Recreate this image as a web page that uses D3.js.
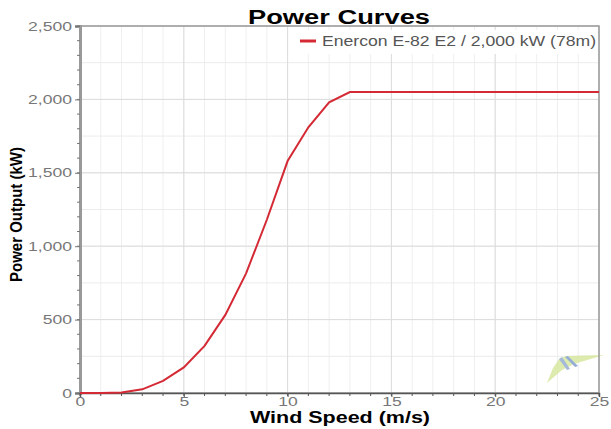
<!DOCTYPE html>
<meta charset="utf-8">
<style>
body { margin: 0; background: #fff; }
svg { font-family: "Liberation Sans", Arial, sans-serif; }
.tick text { fill: #777; font-size: 13px; }
.title { font-weight: bold; font-size: 20px; }
.axis-label { font-weight: bold; font-size: 16px; }
</style>
<body>
<script src="https://d3js.org/d3.v7.min.js"></script>
<script>
// Enercon E-82 E2 power curve
var windSpeed = [0, 1, 2, 3, 4, 5, 6, 7, 8, 9, 10, 11, 12, 13, 14, 15, 16, 17, 18, 19, 20, 21, 22, 23, 24, 25];
var powerKW   = [0, 0, 3, 25, 82, 174, 321, 532, 815, 1180, 1580, 1810, 1980, 2050, 2050, 2050, 2050, 2050, 2050, 2050, 2050, 2050, 2050, 2050, 2050, 2050];
var seriesName = "Enercon E-82 E2 / 2,000 kW (78m)";
var xTicks = [0, 5, 10, 15, 20, 25];
var yTicks = [0, 500, 1000, 1500, 2000, 2500];

var width = 611, height = 429;
var margin = {top: 26, right: 12, bottom: 36, left: 80};
var stretch = 1.35; // the picture is drawn wide

var svg = d3.select("body").append("svg")
  .attr("width", width)
  .attr("height", height);

var x = d3.scaleLinear().domain([0, 25]).range([margin.left, width - margin.right]);
var y = d3.scaleLinear().domain([0, 2500]).range([height - margin.bottom, margin.top]);

// minor grid
svg.append("g").selectAll("line")
  .data(d3.range(0, 26, 1))
  .enter().append("line")
  .attr("x1", d => x(d)).attr("x2", d => x(d))
  .attr("y1", y(0)).attr("y2", y(2500))
  .attr("stroke", "#efefef");

svg.append("g").selectAll("line")
  .data(d3.range(0, 2501, 250))
  .enter().append("line")
  .attr("x1", x(0)).attr("x2", x(25))
  .attr("y1", d => y(d)).attr("y2", d => y(d))
  .attr("stroke", "#ececec");

// major grid
svg.append("g").selectAll("line")
  .data(xTicks)
  .enter().append("line")
  .attr("x1", d => x(d)).attr("x2", d => x(d))
  .attr("y1", y(0)).attr("y2", y(2500))
  .attr("stroke", "#dcdcdc");

svg.append("g").selectAll("line")
  .data(yTicks)
  .enter().append("line")
  .attr("x1", x(0)).attr("x2", x(25))
  .attr("y1", d => y(d)).attr("y2", d => y(d))
  .attr("stroke", "#dcdcdc");

// logo, faint, bottom right
var logo = svg.append("g").attr("opacity", 0.8);
logo.append("path")
  .attr("d", "M547,383 L553,368 L559,359 L566,356 L604,355 L574,364 L562,370 Z")
  .attr("fill", "#d6e79a");
logo.append("path")
  .attr("d", "M559,359 L562,357 L570,369 L567,370 Z")
  .attr("fill", "#8fa8d2");
logo.append("path")
  .attr("d", "M565,357 L568,356 L578,366 L575,367 Z")
  .attr("fill", "#7d9bcc");

// frame
svg.append("rect")
  .attr("x", x(0)).attr("y", y(2500))
  .attr("width", x(25) - x(0)).attr("height", y(0) - y(2500))
  .attr("fill", "none")
  .attr("stroke", "#9a9a9a")
  .attr("stroke-width", 1.5);

// axes
var yAxis = d3.axisLeft(y).tickValues(yTicks).tickSize(5).tickFormat(d3.format(","));
var gy = svg.append("g").attr("transform", "translate(" + x(0) + ",0)").call(yAxis);
gy.select(".domain").attr("stroke", "#999").attr("stroke-width", 3);
gy.selectAll(".tick line").attr("stroke", "#777");
gy.selectAll(".tick text")
  .attr("x", -8 / stretch)
  .attr("transform", "scale(" + stretch + ",1)");

svg.append("g").selectAll("line")
  .data(d3.range(0, 2501, 100))
  .enter().append("line")
  .attr("x1", x(0) - 3).attr("x2", x(0))
  .attr("y1", d => y(d)).attr("y2", d => y(d))
  .attr("stroke", "#777");

var xAxis = d3.axisBottom(x).tickValues(xTicks).tickSize(4);
var gx = svg.append("g").attr("transform", "translate(0," + y(0) + ")").call(xAxis);
gx.select(".domain").attr("stroke", "#555").attr("stroke-width", 1.5);
gx.selectAll(".tick line").attr("stroke", "#555");
gx.selectAll(".tick text")
  .attr("dy", "0.5em")
  .attr("transform", "scale(" + stretch + ",1)");

svg.append("g").selectAll("line")
  .data(d3.range(0, 26, 1))
  .enter().append("line")
  .attr("x1", d => x(d)).attr("x2", d => x(d))
  .attr("y1", y(0)).attr("y2", y(0) + 3)
  .attr("stroke", "#555");

// curve
var line = d3.line()
  .x((d, i) => x(windSpeed[i]))
  .y(d => y(d));

svg.append("path")
  .datum(powerKW)
  .attr("fill", "none")
  .attr("stroke", "#d42a35")
  .attr("stroke-width", 2)
  .attr("d", line);

// legend
var lg = svg.append("g").attr("transform", "translate(296,30)");
lg.append("rect")
  .attr("width", 302).attr("height", 24)
  .attr("fill", "#fff");
lg.append("line")
  .attr("x1", 4).attr("x2", 20)
  .attr("y1", 11).attr("y2", 11)
  .attr("stroke", "#d42a35")
  .attr("stroke-width", 3);
lg.append("text")
  .attr("x", 26).attr("y", 16)
  .attr("fill", "#555")
  .attr("font-size", 14)
  .attr("textLength", 274)
  .attr("lengthAdjust", "spacingAndGlyphs")
  .text(seriesName);

// titles
svg.append("text")
  .attr("class", "title")
  .attr("x", 248).attr("y", 24)
  .attr("textLength", 182)
  .attr("lengthAdjust", "spacingAndGlyphs")
  .text("Power Curves");

svg.append("text")
  .attr("class", "axis-label")
  .attr("x", 250).attr("y", 423)
  .attr("textLength", 180)
  .attr("lengthAdjust", "spacingAndGlyphs")
  .text("Wind Speed (m/s)");

svg.append("text")
  .attr("class", "axis-label")
  .attr("transform", "translate(22,282) rotate(-90)")
  .attr("font-family", "'Liberation Sans Narrow', 'Liberation Sans', sans-serif")
  .attr("textLength", 135)
  .attr("lengthAdjust", "spacingAndGlyphs")
  .text("Power Output (kW)");
</script>
</body>
